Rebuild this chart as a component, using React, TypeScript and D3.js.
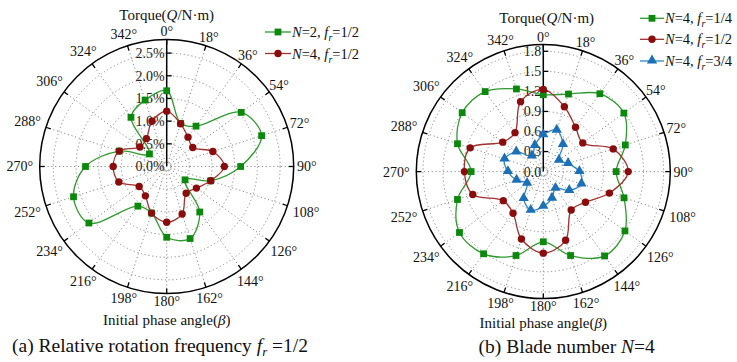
import React from 'react';
import * as d3 from 'd3';

// Angular categories (initial phase angle, degrees)
const angleDeg = [0, 18, 36, 54, 72, 90, 108, 126, 144, 162, 180, 198, 216, 234, 252, 270, 288, 306, 324, 342];

// (a) f_r = 1/2, torque in %
const leftN2 = [1.67, 1.0, 1.10, 2.03, 2.2, 1.63, 1.02, 0.50, 1.24, 1.67, 1.56, 1.08, 1.08, 2.12, 2.16, 1.79, 1.10, 0.47, 1.34, 1.54];
const leftN4 = [1.22, 0.99, 0.80, 0.71, 1.07, 1.27, 1.02, 0.81, 0.73, 1.10, 1.23, 1.08, 0.80, 0.75, 1.11, 1.18, 1.10, 0.73, 0.76, 1.05];

// (b) N = 4, torque in N·m
const rightFr14 = [1.15, 1.22, 1.44, 1.49, 1.29, 1.09, 1.27, 1.51, 1.56, 1.32, 1.05, 1.32, 1.52, 1.55, 1.35, 1.08, 1.35, 1.50, 1.48, 1.30];
const rightFr12 = [1.23, 1.02, 0.82, 0.73, 1.10, 1.27, 1.04, 0.78, 0.71, 1.08, 1.22, 1.06, 0.77, 0.74, 1.11, 1.18, 1.15, 0.75, 0.72, 1.10];
const rightFr34 = [0.55, 0.65, 0.50, 0.29, 0.39, 0.54, 0.60, 0.48, 0.31, 0.42, 0.52, 0.61, 0.50, 0.30, 0.42, 0.53, 0.61, 0.50, 0.29, 0.41];

const leftRadialTicks = [0, 0.5, 1.0, 1.5, 2.0, 2.5];
const rightRadialTicks = [0, 0.3, 0.6, 0.9, 1.2, 1.5, 1.8];

const FONT = '"Liberation Serif", "Times New Roman", serif';
const GREEN = { line: '#2f9a2f', mark: '#0c880c' };
const RED = { line: '#a33030', mark: '#8a0c0c' };
const BLUE = { line: '#2e86c8', mark: '#1c70b6' };

type Series = { values: number[]; color: { line: string; mark: string }; shape: 'square' | 'circle' | 'triangle' };

function Marker({ x, y, shape, fill }: { x: number; y: number; shape: string; fill: string }) {
  if (shape === 'square') return <rect x={x - 3.4} y={y - 3.4} width={6.8} height={6.8} fill={fill} />;
  if (shape === 'circle') return <circle cx={x} cy={y} r={3.7} fill={fill} />;
  const p = d3.symbol().type(d3.symbolTriangle).size(46)() as string;
  return <path d={p} transform={`translate(${x},${y - 0.5})`} fill={fill} />;
}

function Polar({ cx, cy, R, max, ticks, fmt, series }: { cx: number; cy: number; R: number; max: number; ticks: number[]; fmt: (v: number) => string; series: Series[] }) {
  const r = d3.scaleLinear().domain([0, max]).range([0, R]);
  const a = d3.scaleLinear().domain([0, 360]).range([0, 2 * Math.PI]);
  const line = d3
    .lineRadial<number>()
    .angle((_, i) => a(angleDeg[i]))
    .radius((d) => r(d))
    .curve(d3.curveCatmullRomClosed.alpha(0.5));
  const grid = '#8a8a8a';
  return (
    <g transform={`translate(${cx},${cy})`}>
      {ticks.map((t) => (
        <circle key={'c' + t} r={Math.max(r(t), 4)} fill="none" stroke={grid} strokeWidth={1} strokeDasharray="1.2,2.6" />
      ))}
      {angleDeg.map((d) => {
        const th = a(d);
        return (
          <line key={'s' + d} x1={4 * Math.sin(th)} y1={-4 * Math.cos(th)} x2={R * Math.sin(th)} y2={-R * Math.cos(th)} stroke={grid} strokeWidth={1} strokeDasharray="1.2,2.6" />
        );
      })}
      <circle r={R} fill="none" stroke="#000" strokeWidth={1.5} />
      {angleDeg.map((d) => {
        const th = a(d);
        return (
          <line key={'t' + d} x1={(R - 5) * Math.sin(th)} y1={-(R - 5) * Math.cos(th)} x2={R * Math.sin(th)} y2={-R * Math.cos(th)} stroke="#000" strokeWidth={1.3} />
        );
      })}
      {angleDeg.map((d) => {
        const th = a(d);
        const lab = `${d}°`;
        const extra = lab.length >= 4 ? 12 : 5;
        const dist = R + 8 + Math.abs(Math.sin(th)) * extra;
        return (
          <text key={'l' + d} x={dist * Math.sin(th)} y={-dist * Math.cos(th)} dy="0.35em" textAnchor="middle" fontSize={14} fontFamily={FONT} fill="#111">
            {lab}
          </text>
        );
      })}
      <line x1={0} y1={0} x2={0} y2={-R} stroke="#000" strokeWidth={1.5} />
      {ticks.map((t) => (
        <g key={'rt' + t}>
          {t > 0 && <line x1={0} y1={-r(t)} x2={5} y2={-r(t)} stroke="#000" strokeWidth={1.3} />}
          <text x={-2} y={-r(t)} dy="0.35em" textAnchor="end" fontSize={14} fontFamily={FONT} fill="#222">
            {fmt(t)}
          </text>
        </g>
      ))}
      {series.map((s, si) => (
        <g key={'ser' + si}>
          <path d={line(s.values) as string} fill="none" stroke={s.color.line} strokeWidth={1.3} />
          {s.values.map((v, i) => {
            const th = a(angleDeg[i]);
            return <Marker key={i} x={r(v) * Math.sin(th)} y={-r(v) * Math.cos(th)} shape={s.shape} fill={s.color.mark} />;
          })}
        </g>
      ))}
    </g>
  );
}

function LegendItem({ x1, x2, y, s, n, fr }: { x1: number; x2: number; y: number; s: Series; n: string; fr: string }) {
  return (
    <g>
      <line x1={x1} y1={y} x2={x2} y2={y} stroke={s.color.line} strokeWidth={1.3} />
      <Marker x={(x1 + x2) / 2} y={y} shape={s.shape} fill={s.color.mark} />
      <text x={x2 + 1} y={y} dy="0.35em" fontSize={14.5} fontFamily={FONT} fill="#111">
        <tspan fontStyle="italic">N</tspan>={n}, <tspan fontStyle="italic">f</tspan>
        <tspan fontSize={10} dy={4} fontStyle="italic">r</tspan>
        <tspan dy={-4}>={fr}</tspan>
      </text>
    </g>
  );
}

export default function App() {
  const sL1: Series = { values: leftN2, color: GREEN, shape: 'square' };
  const sL2: Series = { values: leftN4, color: RED, shape: 'circle' };
  const sR1: Series = { values: rightFr14, color: GREEN, shape: 'square' };
  const sR2: Series = { values: rightFr12, color: RED, shape: 'circle' };
  const sR3: Series = { values: rightFr34, color: BLUE, shape: 'triangle' };
  return (
    <div style={{ position: 'fixed', left: 0, top: 0 }}>
      <svg width={737} height={362} style={{ display: 'block', background: '#fff' }}>
        {/* Left chart */}
        <text x={166.7} y={20} textAnchor="middle" fontSize={15} fontFamily={FONT} fill="#111">
          Torque(<tspan fontStyle="italic">Q</tspan>/N·m)
        </text>
        <Polar cx={166.7} cy={166.5} R={127} max={2.8} ticks={leftRadialTicks} fmt={(v) => `${v.toFixed(1)}%`} series={[sL1, sL2]} />
        <text x={166.7} y={325} textAnchor="middle" fontSize={15} fontFamily={FONT} fill="#111">
          Initial phase angle(<tspan fontStyle="italic">β</tspan>)
        </text>
        <LegendItem x1={265} x2={291} y={32} s={sL1} n="2" fr="1/2" />
        <LegendItem x1={265} x2={291} y={53.5} s={sL2} n="4" fr="1/2" />
        <text x={12} y={352} fontSize={19.5} fontFamily={FONT} fill="#111">
          (a) Relative rotation frequency <tspan fontStyle="italic">f</tspan>
          <tspan fontSize={13} dy={4} fontStyle="italic">r</tspan>
          <tspan dy={-4}> =1/2</tspan>
        </text>

        {/* Right chart */}
        <text x={546.7} y={23} textAnchor="middle" fontSize={15} fontFamily={FONT} fill="#111">
          Torque(<tspan fontStyle="italic">Q</tspan>/N·m)
        </text>
        <Polar cx={543.3} cy={171.6} R={127} max={1.9} ticks={rightRadialTicks} fmt={(v) => v.toFixed(1)} series={[sR1, sR2, sR3]} />
        <text x={543.3} y={327.5} textAnchor="middle" fontSize={15} fontFamily={FONT} fill="#111">
          Initial phase angle(<tspan fontStyle="italic">β</tspan>)
        </text>
        <LegendItem x1={640} x2={664} y={18.3} s={sR1} n="4" fr="1/4" />
        <LegendItem x1={640} x2={664} y={39.3} s={sR2} n="4" fr="1/2" />
        <LegendItem x1={640} x2={664} y={61} s={sR3} n="4" fr="3/4" />
        <text x={566.7} y={353} textAnchor="middle" fontSize={19.5} fontFamily={FONT} fill="#111">
          (b) Blade number <tspan fontStyle="italic">N</tspan>=4
        </text>
      </svg>
    </div>
  );
}
